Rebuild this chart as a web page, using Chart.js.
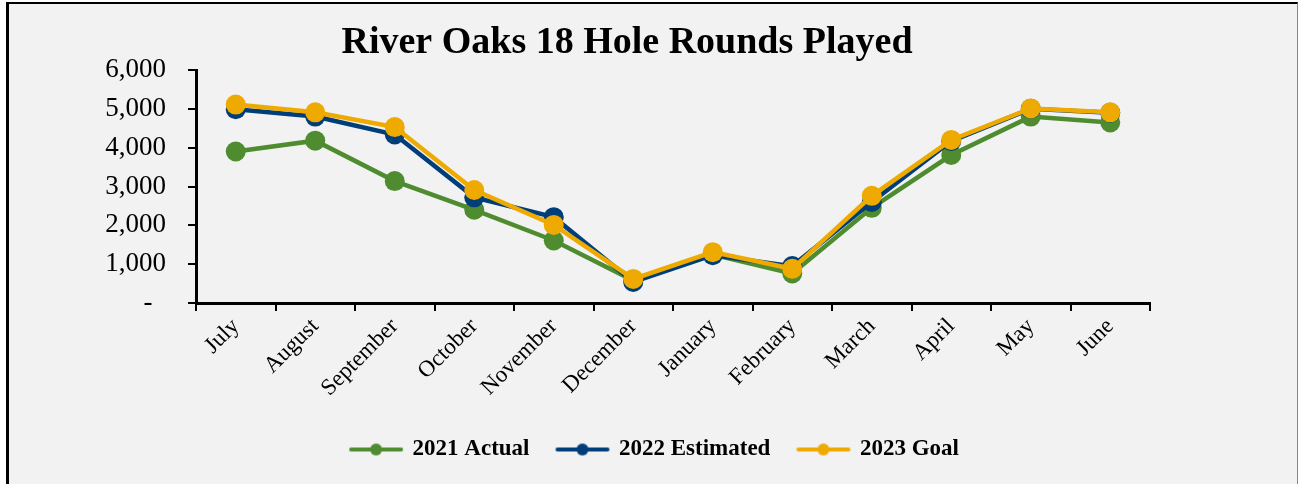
<!DOCTYPE html>
<html>
<head>
<meta charset="utf-8">
<script src="https://cdn.jsdelivr.net/npm/chart.js@4.4.1/dist/chart.umd.min.js"></script>
<style>
  html, body { margin: 0; padding: 0; background: #ffffff; overflow: hidden; }
  #frame {
    position: absolute; left: 6px; top: 2px; width: 1288px; height: 520px;
    background: #f2f2f2;
    border-left: 3px solid #000; border-top: 2px solid #000; border-right: 1px solid #888;
  }
  #wrap { position: absolute; left: 0; top: 0; width: 1299px; height: 484px; }
</style>
</head>
<body>
<div id="frame"></div>
<div id="wrap"><canvas id="chart" width="1299" height="484"></canvas></div>
<script>
// Data
const months = ['July', 'August', 'September', 'October', 'November', 'December',
                'January', 'February', 'March', 'April', 'May', 'June'];
const actual2021 = [3900, 4180, 3140, 2400, 1610, 580, 1250, 760, 2450, 3810, 4800, 4650];
const estimated2022 = [4990, 4800, 4340, 2720, 2210, 540, 1230, 950, 2600, 4170, 5000, 4900];
const goal2023 = [5110, 4910, 4530, 2910, 2010, 620, 1310, 880, 2760, 4200, 5010, 4910];
const yTicks = [0, 1000, 2000, 3000, 4000, 5000, 6000];

const GREEN = '#4e8c2f';
const BLUE = '#003e7a';
const GOLD = '#eeaa00';

// legend marker: short line with a dot in the middle
function legendMarker(color) {
    const c = document.createElement('canvas');
    c.width = 56;
    c.height = 16;
    const ctx = c.getContext('2d');
    ctx.strokeStyle = color;
    ctx.lineWidth = 4;
    ctx.lineCap = 'round';
    ctx.beginPath();
    ctx.moveTo(3, 8);
    ctx.lineTo(53, 8);
    ctx.stroke();
    ctx.fillStyle = color;
    ctx.beginPath();
    ctx.arc(28, 8, 6, 0, Math.PI * 2);
    ctx.fill();
    return c;
}

function series(label, data, color) {
    return {
        label: label,
        data: data,
        borderColor: color,
        backgroundColor: color,
        pointBackgroundColor: color,
        pointBorderColor: color,
        borderWidth: 4.5,
        pointRadius: 10,
        pointBorderWidth: 0,
        tension: 0,
        fill: false,
        marker: legendMarker(color)
    };
}

// shift the legend a little to the right, like the original
const legendShift = {
    id: 'legendShift',
    afterLayout(chart) {
        if (chart.legend) {
            chart.legend.left += 28;
            chart.legend.right += 28;
        }
    }
};

const serif = "'Liberation Serif', 'DejaVu Serif', serif";

new Chart(document.getElementById('chart'), {
    type: 'line',
    data: {
        labels: months,
        // drawn last on top: goal over estimated over actual
        datasets: [
            series('2023 Goal', goal2023, GOLD),
            series('2022 Estimated', estimated2022, BLUE),
            series('2021 Actual', actual2021, GREEN)
        ]
    },
    plugins: [legendShift],
    options: {
        responsive: false,
        animation: false,
        layout: { padding: { left: 104, right: 149, top: 0, bottom: 13 } },
        scales: {
            x: {
                offset: true,
                grid: {
                    display: true, drawOnChartArea: false, drawTicks: true,
                    tickLength: 8, color: '#000', lineWidth: 2, offset: true
                },
                border: { display: true, color: '#000', width: 3 },
                ticks: {
                    color: '#000',
                    font: { family: serif, size: 23 },
                    maxRotation: 45, minRotation: 45,
                    padding: 2
                },
                afterFit(scale) { scale.height = 107; }
            },
            y: {
                min: 0,
                max: 6000,
                afterBuildTicks(scale) { scale.ticks = yTicks.map(v => ({ value: v })); },
                grid: {
                    display: true, drawOnChartArea: false, drawTicks: true,
                    tickLength: 8, color: '#000', lineWidth: 2
                },
                border: { display: true, color: '#000', width: 3 },
                ticks: {
                    color: '#000',
                    font: { family: serif, size: 27 },
                    padding: 22,
                    callback: v => v === 0 ? '-  ' : v.toLocaleString('en-US')
                },
                afterFit(scale) { scale.width = 92; }
            }
        },
        plugins: {
            title: {
                display: true,
                text: 'River Oaks 18 Hole Rounds Played',
                color: '#000',
                font: { family: serif, size: 38, weight: 'bold' },
                padding: { top: 20, bottom: 4.4 }
            },
            legend: {
                display: true,
                position: 'bottom',
                reverse: true,
                labels: {
                    color: '#000',
                    font: { family: serif, size: 23, weight: 'bold' },
                    usePointStyle: true,
                    pointStyleWidth: 50,
                    padding: 28,
                    generateLabels(chart) {
                        const items = Chart.defaults.plugins.legend.labels.generateLabels(chart);
                        items.forEach(it => {
                            it.pointStyle = chart.data.datasets[it.datasetIndex].marker;
                        });
                        return items;
                    }
                }
            },
            tooltip: { enabled: false }
        }
    }
});
</script>
</body>
</html>
